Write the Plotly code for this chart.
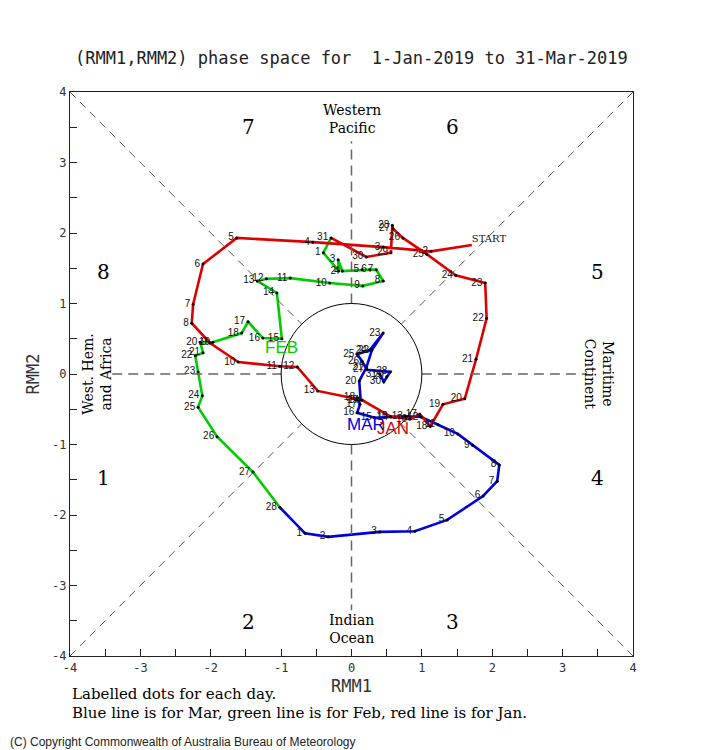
import plotly.graph_objects as go

# ---- Data (RMM1, RMM2) ----
jan_rmm1 = [1.71, 1.13, 0.45, -0.55, -1.63, -2.11, -2.25, -2.27, -2.01, -1.61,
            -1.02, -0.77, -0.48, 0.15, 0.55, 0.83, 0.97, 1.12, 1.30, 1.61,
            1.77, 1.92, 1.90, 1.48, 1.07, 0.73, 0.59, 0.58, 0.56, 0.21, -0.29]
jan_rmm2 = [1.83, 1.74, 1.80, 1.87, 1.93, 1.56, 0.99, 0.72, 0.44, 0.17,
            0.11, 0.10, -0.24, -0.37, -0.60, -0.64, -0.57, -0.74, -0.43, -0.35,
            0.21, 0.79, 1.29, 1.40, 1.70, 1.93, 2.06, 2.11, 1.72, 1.66, 1.93]

feb_rmm1 = [-0.40, -0.18, -0.19, -0.13, 0.15, 0.26, 0.35, 0.45, 0.16, -0.31,
            -0.87, -1.21, -1.34, -1.06, -0.99, -1.26, -1.47, -1.56, -1.97, -2.15,
            -2.11, -2.22, -2.18, -2.12, -2.18, -1.91, -1.40, -1.02]
feb_rmm2 = [1.72, 1.46, 1.62, 1.46, 1.48, 1.48, 1.48, 1.32, 1.25, 1.29,
            1.36, 1.35, 1.32, 1.15, 0.50, 0.51, 0.74, 0.58, 0.45, 0.45,
            0.30, 0.26, 0.03, -0.31, -0.47, -0.89, -1.39, -1.89]

mar_rmm1 = [-0.66, -0.33, 0.40, 0.90, 1.36, 1.87, 2.07, 2.10, 1.72, 1.51,
            1.23, 0.99, 0.77, 0.56, 0.33, 0.08, 0.12, 0.09, 0.13, 0.11,
            0.21, 0.29, 0.45, 0.26, 0.08, 0.15, 0.22, 0.55, 0.50, 0.46, 0.40]
mar_rmm2 = [-2.26, -2.31, -2.24, -2.23, -2.07, -1.73, -1.52, -1.29, -1.01, -0.85,
            -0.72, -0.61, -0.60, -0.61, -0.62, -0.55, -0.43, -0.34, -0.37, -0.10,
            0.09, 0.34, 0.58, 0.34, 0.28, 0.18, 0.06, 0.03, -0.04, -0.11, 0.00]

jan_labels = ["START"] + [str(d) for d in range(2, 32)]
feb_labels = [str(d) for d in range(1, 29)]
mar_labels = [str(d) for d in range(1, 32)]

tick_vals = [-4, -3, -2, -1, 0, 1, 2, 3, 4]
tick_text = ["-4", "-3", "-2", "-1", "0", "1", "2", "3", "4"]

RED = "#dd0000"
GREEN = "#00cc00"
BLUE = "#0000dd"

fig = go.Figure()

# Month lines (Mar drawn first, Jan on top)
fig.add_trace(go.Scatter(x=[feb_rmm1[-1]] + mar_rmm1, y=[feb_rmm2[-1]] + mar_rmm2,
                         mode="lines", line=dict(color=BLUE, width=2.6), hoverinfo="skip"))
fig.add_trace(go.Scatter(x=[jan_rmm1[-1]] + feb_rmm1, y=[jan_rmm2[-1]] + feb_rmm2,
                         mode="lines", line=dict(color=GREEN, width=2.6), hoverinfo="skip"))
fig.add_trace(go.Scatter(x=jan_rmm1, y=jan_rmm2,
                         mode="lines", line=dict(color=RED, width=2.6), hoverinfo="skip"))

label_font = dict(family="Liberation Sans, Arial", size=10, color="#111")

# Labelled dots
for xs, ys, labs in [(mar_rmm1, mar_rmm2, mar_labels),
                     (feb_rmm1, feb_rmm2, feb_labels),
                     (jan_rmm1[1:], jan_rmm2[1:], jan_labels[1:])]:
    fig.add_trace(go.Scatter(x=xs, y=ys, mode="markers+text", text=labs,
                             textposition="middle left", textfont=label_font,
                             marker=dict(color="black", size=3), hoverinfo="skip"))

fig.add_trace(go.Scatter(x=jan_rmm1[:1], y=jan_rmm2[:1], mode="text", text=jan_labels[:1],
                         textposition="top right",
                         textfont=dict(family="DejaVu Serif", size=10, color="#111"),
                         hoverinfo="skip"))

shapes = []
dash_axis = dict(color="#666", width=1.5, dash="10px,6px")
dash_diag = dict(color="#555", width=1.0, dash="8px,6px")
# Axis dashed lines (stop at the unit circle)
shapes += [
    dict(type="line", x0=0, y0=1, x1=0, y1=3.3, line=dash_axis),
    dict(type="line", x0=0, y0=-1, x1=0, y1=-3.35, line=dash_axis),
    dict(type="line", x0=-3.4, y0=0, x1=-1, y1=0, line=dash_axis),
    dict(type="line", x0=1, y0=0, x1=3.35, y1=0, line=dash_axis),
]
r = 0.7071
shapes += [
    dict(type="line", x0=-4, y0=4, x1=-r, y1=r, line=dash_diag),
    dict(type="line", x0=4, y0=4, x1=r, y1=r, line=dash_diag),
    dict(type="line", x0=-4, y0=-4, x1=-r, y1=-r, line=dash_diag),
    dict(type="line", x0=4, y0=-4, x1=r, y1=-r, line=dash_diag),
]
shapes.append(dict(type="circle", x0=-1, y0=-1, x1=1, y1=1, line=dict(color="black", width=1)))

ann = []
phase_font = dict(family="DejaVu Serif", size=20, color="black")
for t, x, y in [("7", -1.46, 3.50), ("6", 1.44, 3.50), ("8", -3.52, 1.45), ("5", 3.50, 1.45),
                ("1", -3.52, -1.48), ("4", 3.50, -1.48), ("2", -1.46, -3.52), ("3", 1.44, -3.52)]:
    ann.append(dict(x=x, y=y, text=t, showarrow=False, font=phase_font))

region_font = dict(family="DejaVu Serif", size=14, color="black")
ann.append(dict(x=0, y=3.62, text="Western<br>Pacific", showarrow=False, font=region_font))
ann.append(dict(x=0, y=-3.62, text="Indian<br>Ocean", showarrow=False, font=region_font))
ann.append(dict(x=-3.62, y=0, text="West. Hem.<br>and Africa", showarrow=False, font=region_font, textangle=-90))
ann.append(dict(x=3.52, y=0, text="Maritime<br>Continent", showarrow=False, font=region_font, textangle=90))

ann.append(dict(x=-0.99, y=0.38, text="FEB", showarrow=False,
                font=dict(family="Liberation Sans", size=17, color=GREEN)))
ann.append(dict(x=0.21, y=-0.71, text="MAR", showarrow=False,
                font=dict(family="Liberation Sans", size=17, color=BLUE)))
ann.append(dict(x=0.59, y=-0.78, text="JAN", showarrow=False,
                font=dict(family="Liberation Sans", size=17, color=RED)))

ann.append(dict(xref="paper", yref="paper", x=0.5, y=1.06, xanchor="center", yanchor="middle",
                text="(RMM1,RMM2) phase space for  1-Jan-2019 to 31-Mar-2019", showarrow=False,
                font=dict(family="DejaVu Sans Mono", size=17, color="#222")))
ann.append(dict(xref="paper", yref="paper", x=0.0, y=-0.067, xanchor="left", yanchor="middle",
                text="Labelled dots for each day.", showarrow=False,
                font=dict(family="DejaVu Serif", size=15, color="black")))
ann.append(dict(xref="paper", yref="paper", x=0.0, y=-0.101, xanchor="left", yanchor="middle",
                text="Blue line is for Mar, green line is for Feb, red line is for Jan.", showarrow=False,
                font=dict(family="DejaVu Serif", size=15, color="black")))
ann.append(dict(xref="paper", yref="paper", x=-0.110, y=-0.152, xanchor="left", yanchor="middle",
                text="(C) Copyright Commonwealth of Australia Bureau of Meteorology", showarrow=False,
                font=dict(family="Liberation Sans Narrow, Liberation Sans", size=12, color="#222")))

axis_common = dict(range=[-4, 4], tickvals=tick_vals, ticktext=tick_text, automargin=False,
                   showgrid=False, zeroline=False, showline=True, linecolor="#222", linewidth=1.2,
                   mirror=True, ticks="inside", ticklen=0,
                   tickfont=dict(family="DejaVu Sans Mono", size=12, color="#333"),
                   minor=dict(dtick=0.5, ticks="inside", ticklen=7, tickcolor="#222", showgrid=False))

# The page body adds an 8px offset, so the figure is sized 8px smaller on each axis
fig.update_layout(
    width=697, height=742,
    margin=dict(l=62, r=72, t=84, b=94),
    paper_bgcolor="white", plot_bgcolor="white",
    showlegend=False,
    shapes=shapes, annotations=ann,
    xaxis=dict(**axis_common, title=dict(text="RMM1", standoff=6,
               font=dict(family="DejaVu Sans Mono", size=17, color="#333"))),
    yaxis=dict(**axis_common, title=dict(text="RMM2", standoff=8,
               font=dict(family="DejaVu Sans Mono", size=17, color="#333"))),
)

fig.write_html("out.html")
